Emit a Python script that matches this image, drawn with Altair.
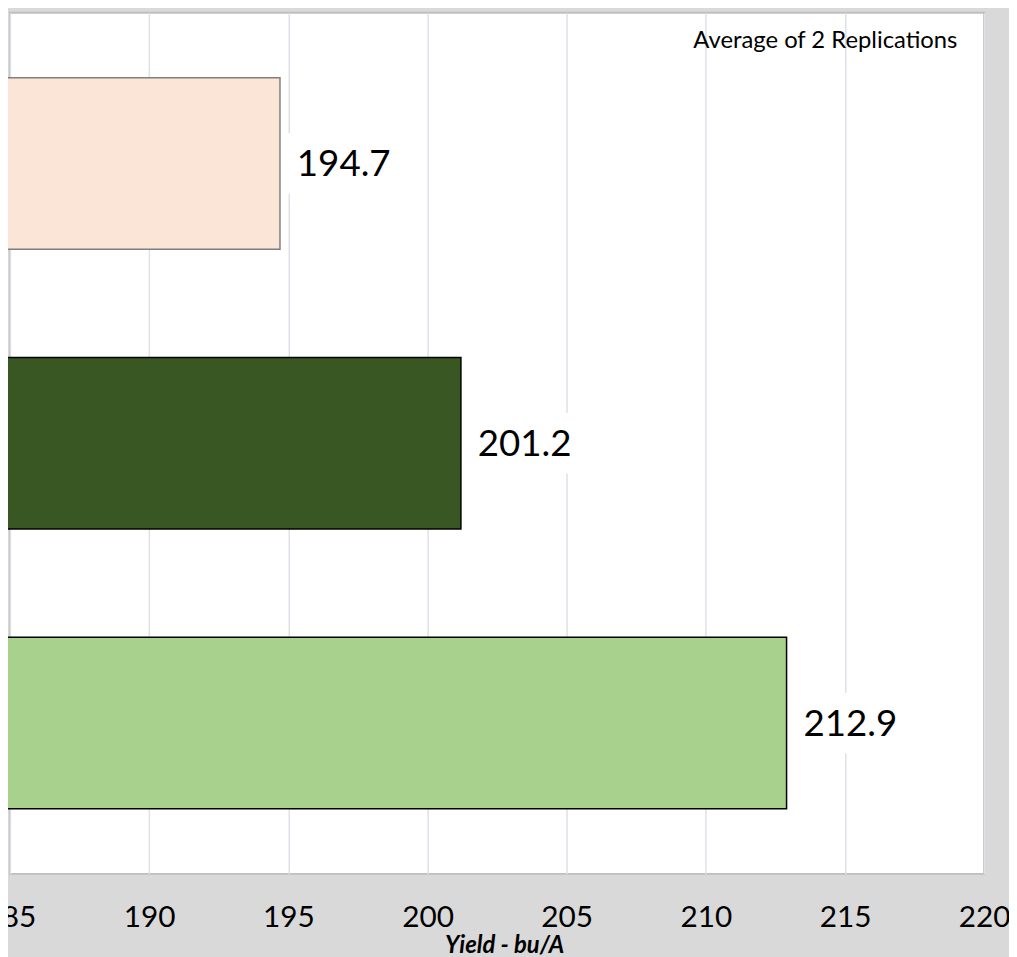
import altair as alt
import pandas as pd

entries = ["Entry 1", "Entry 2", "Entry 3"]
yields = [194.7, 201.2, 212.9]
fills = ["#fbe5d6", "#385723", "#a9d18e"]
outlines = ["#7f7f7f", "#000000", "#000000"]
x_ticks = [185, 190, 195, 200, 205, 210, 215, 220]
note = "Average of 2 Replications"

df = pd.DataFrame({"Entry": entries, "Yield": yields, "Fill": fills, "Outline": outlines})
df["Label"] = df["Yield"].map(lambda v: f"{v:.1f}")

FONT = "Lato"

xscale = alt.Scale(domain=[185, 220], nice=False, zero=False)
yscale = alt.Scale(domain=entries, paddingInner=0.387, paddingOuter=0.2325)

base = alt.Chart(df)

bars = base.mark_bar(strokeWidth=1.5).encode(
    x=alt.X("Yield:Q", scale=xscale,
            axis=alt.Axis(values=x_ticks, title="Yield - bu/A", grid=True,
                          gridColor="#dde1e8", gridWidth=1.5, domain=False,
                          ticks=False, labelFont=FONT, labelFontSize=30,
                          labelColor="#000000", labelPadding=29,
                          labelFlush=False, labelOverlap=False, labelBound=False,
                          titleFont=FONT, titleFontSize=24, titleFontWeight="bold",
                          titleFontStyle="italic", titleColor="#000000",
                          titleX=498, titleY=79, titleBaseline="alphabetic",
                          titleAlign="center", format="d")),
    x2=alt.value(0),
    y=alt.Y("Entry:N", scale=yscale, axis=None, sort=entries),
    fill=alt.Fill("Fill:N", scale=None),
    stroke=alt.Stroke("Outline:N", scale=None),
)

label_box = base.mark_bar(color="white", height=61, xOffset=5, x2Offset=120).encode(
    x=alt.X("Yield:Q", scale=xscale),
    x2="Yield:Q",
    y=alt.Y("Entry:N", scale=yscale, sort=entries),
)

labels = base.mark_text(align="left", baseline="middle", dx=17, dy=2,
                        font=FONT, fontSize=37, color="#000000").encode(
    x=alt.X("Yield:Q", scale=xscale),
    y=alt.Y("Entry:N", scale=yscale, sort=entries),
    text="Label:N",
)

note_df = pd.DataFrame({"t": [note]})
note_text = alt.Chart(note_df).mark_text(align="right", baseline="middle",
                                         font=FONT, fontSize=24, color="#000000").encode(
    x=alt.value(955), y=alt.value(29), text="t:N")

chart = alt.layer(bars, label_box, labels, note_text).properties(
    width=982, height=868,
    autosize=alt.AutoSizeParams(type="none"),
    padding={"left": 2, "top": 1, "right": 25, "bottom": 80},
    background="#d9d9d9",
).configure_view(stroke="#bfbfbf", strokeWidth=2, fill="white")

chart.save("out.html", embed_options={"renderer": "svg", "actions": False})
